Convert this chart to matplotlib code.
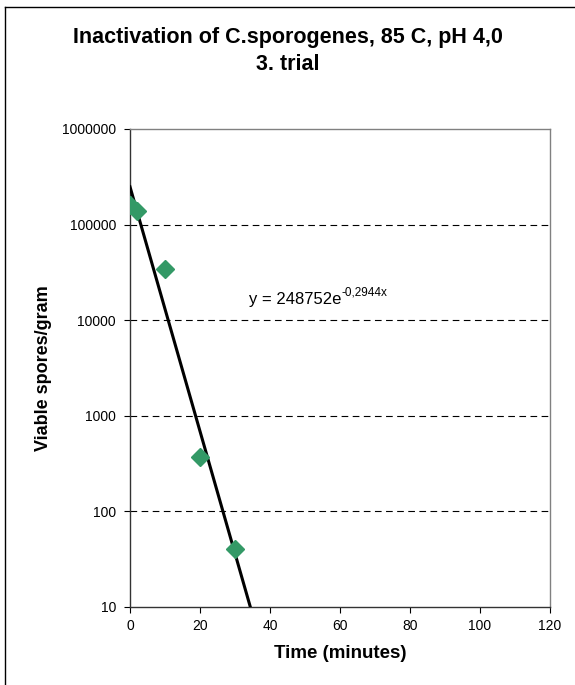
import numpy as np
import matplotlib
matplotlib.use("Agg")
import matplotlib.pyplot as plt
from matplotlib.lines import Line2D
from matplotlib.ticker import FixedLocator, FixedFormatter

# measured data
time_min = [0, 2, 10, 20, 30]
spores = [160000, 140000, 34000, 370, 40]

# fitted trendline y = a * exp(b * x)
fit_a = 248752
fit_b = -0.2944

x_ticks = [0, 20, 40, 60, 80, 100, 120]
y_ticks = [10, 100, 1000, 10000, 100000, 1000000]
y_tick_labels = ["10", "100", "1000", "10000", "100000", "1000000"]

plt.rcParams["font.family"] = ["Liberation Sans", "DejaVu Sans"]

W, H = 575, 685
fig = plt.figure(figsize=(W / 100, H / 100), dpi=100)

# chart area border: only the top and left edges are inside the picture
fig.lines.append(Line2D([5 / W, 1.0], [1 - 7 / H, 1 - 7 / H], transform=fig.transFigure,
                        color="black", linewidth=1.0))
fig.lines.append(Line2D([5 / W, 5 / W], [0.0, 1 - 7 / H], transform=fig.transFigure,
                        color="black", linewidth=1.0))

ax = fig.add_axes([130 / W, 1 - 607 / H, 420 / W, 478 / H])
ax.set_yscale("log")
ax.set_xlim(0, 120)
ax.set_ylim(10, 1000000)

for yv in y_ticks[1:-1]:
    ax.axhline(yv, color="black", linewidth=0.8, linestyle=(0, (6, 4)), zorder=1)

xs = np.linspace(0, 40, 200)
ax.plot(xs, fit_a * np.exp(fit_b * xs), color="black", linewidth=2.2, zorder=3)
ax.plot(time_min, spores, linestyle="none", marker="D", markersize=9,
        color="#339966", markeredgecolor="#339966", zorder=4)

eq = ax.text(34, 16500, "y = 248752e", fontsize=12, ha="left", va="center", zorder=5)
ax.annotate("-0,2944x", xy=(1.0, 0.55), xycoords=eq, fontsize=8.5,
            ha="left", va="bottom", zorder=5)

ax.yaxis.set_major_locator(FixedLocator(y_ticks))
ax.yaxis.set_major_formatter(FixedFormatter(y_tick_labels))
ax.yaxis.set_minor_locator(FixedLocator([]))
ax.set_xticks(x_ticks)
ax.tick_params(axis="both", direction="out", length=4, width=0.8,
               labelsize=10, colors="black")
ax.tick_params(axis="y", pad=6)
ax.tick_params(axis="x", pad=5)

ax.spines["top"].set_color("#808080")
ax.spines["right"].set_color("#808080")
ax.spines["left"].set_color("#333333")
ax.spines["bottom"].set_color("#333333")
for sp in ax.spines.values():
    sp.set_linewidth(1.0)

ax.set_xlabel("Time (minutes)", fontsize=13.5, fontweight="bold", labelpad=8)
ax.set_ylabel("Viable spores/gram", fontsize=13, fontweight="bold", labelpad=7)

fig.text(0.5, 1 - 38 / H, "Inactivation of C.sporogenes, 85 C, pH 4,0",
         ha="center", va="center", fontsize=15.5, fontweight="bold")
fig.text(0.5, 1 - 65 / H, "3. trial", ha="center", va="center",
         fontsize=15.5, fontweight="bold")

fig.savefig("out.png", dpi=100)
